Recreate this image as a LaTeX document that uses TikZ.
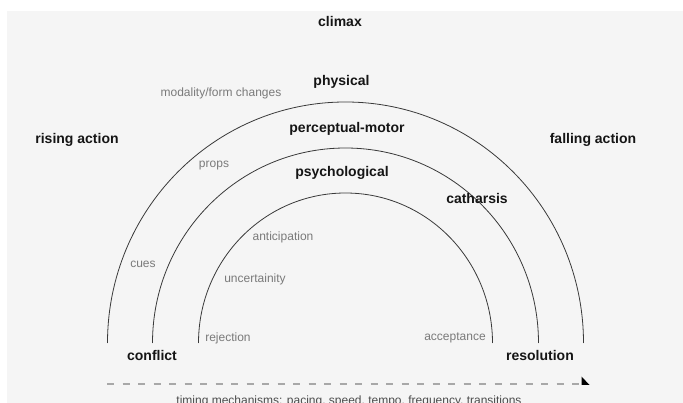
\documentclass[tikz,border=0pt]{standalone}
\usepackage{fontspec}
\setmainfont{Liberation Sans}
\definecolor{bg}{HTML}{F5F5F5}
\definecolor{arcc}{HTML}{3A3A3A}
\definecolor{notec}{HTML}{7A7A7A}
\definecolor{dashc}{HTML}{A8A8A8}
\definecolor{lblc}{HTML}{151515}
\begin{document}
\begin{tikzpicture}[x=1pt,y=-1pt,
  lbl/.style={font=\fontsize{14}{16}\selectfont\bfseries, text=lblc, inner sep=0pt},
  note/.style={font=\fontsize{12}{14}\selectfont, text=notec, inner sep=0pt},
  arcline/.style={draw=arcc, line width=0.8pt},
  timeline/.style={draw=dashc, line width=1.2pt, dash pattern=on 7pt off 8.5pt}]
\useasboundingbox (0,0) rectangle (683,403);
\fill[white] (0,0) rectangle (683,403);
\fill[bg] (7,11) rectangle (683,403);
% arcs
\draw[arcline] (107.5,343) arc[start angle=180, end angle=360, x radius=238, y radius=241];
\draw[arcline] (152.5,343) arc[start angle=180, end angle=360, x radius=193, y radius=195];
\draw[arcline] (198.5,343) arc[start angle=180, end angle=360, x radius=147, y radius=150];
% labels
\node[lbl] (climax) at (340,22) {climax};
\node[lbl] (rising) at (77,140) {rising action};
\node[lbl] (falling) at (593,140) {falling action};
\node[lbl] (physical) at (341.5,82) {physical};
\node[lbl] (percep) at (347,129) {perceptual-motor};
\node[lbl] (psych) at (342,173) {psychological};
\node[lbl] (cath) at (477,198) {catharsis};
\node[lbl] (conflict) at (152,355) {conflict};
\node[lbl] (resol) at (540,355) {resolution};
% notes
\node[note] (modality) at (221,93) {modality/form changes};
\node[note] (props) at (214,166) {props};
\node[note] (cues) at (143,264) {cues};
\node[note] (antic) at (283,237) {anticipation};
\node[note] (uncert) at (255,279) {uncertainity};
\node[note] (reject) at (228,338) {rejection};
\node[note] (accept) at (455,338) {acceptance};
% timeline
\coordinate (tstart) at (107,384);
\coordinate (tend) at (582,384);
\draw[timeline] (tstart) -- (tend);
\fill[black] (581.5,376.5) -- (589.5,385) -- (581.5,385) -- cycle;
\node[note, text=black!70] (timing) at (349,401) {timing mechanisms: pacing, speed, tempo, frequency, transitions};
\end{tikzpicture}
\end{document}
